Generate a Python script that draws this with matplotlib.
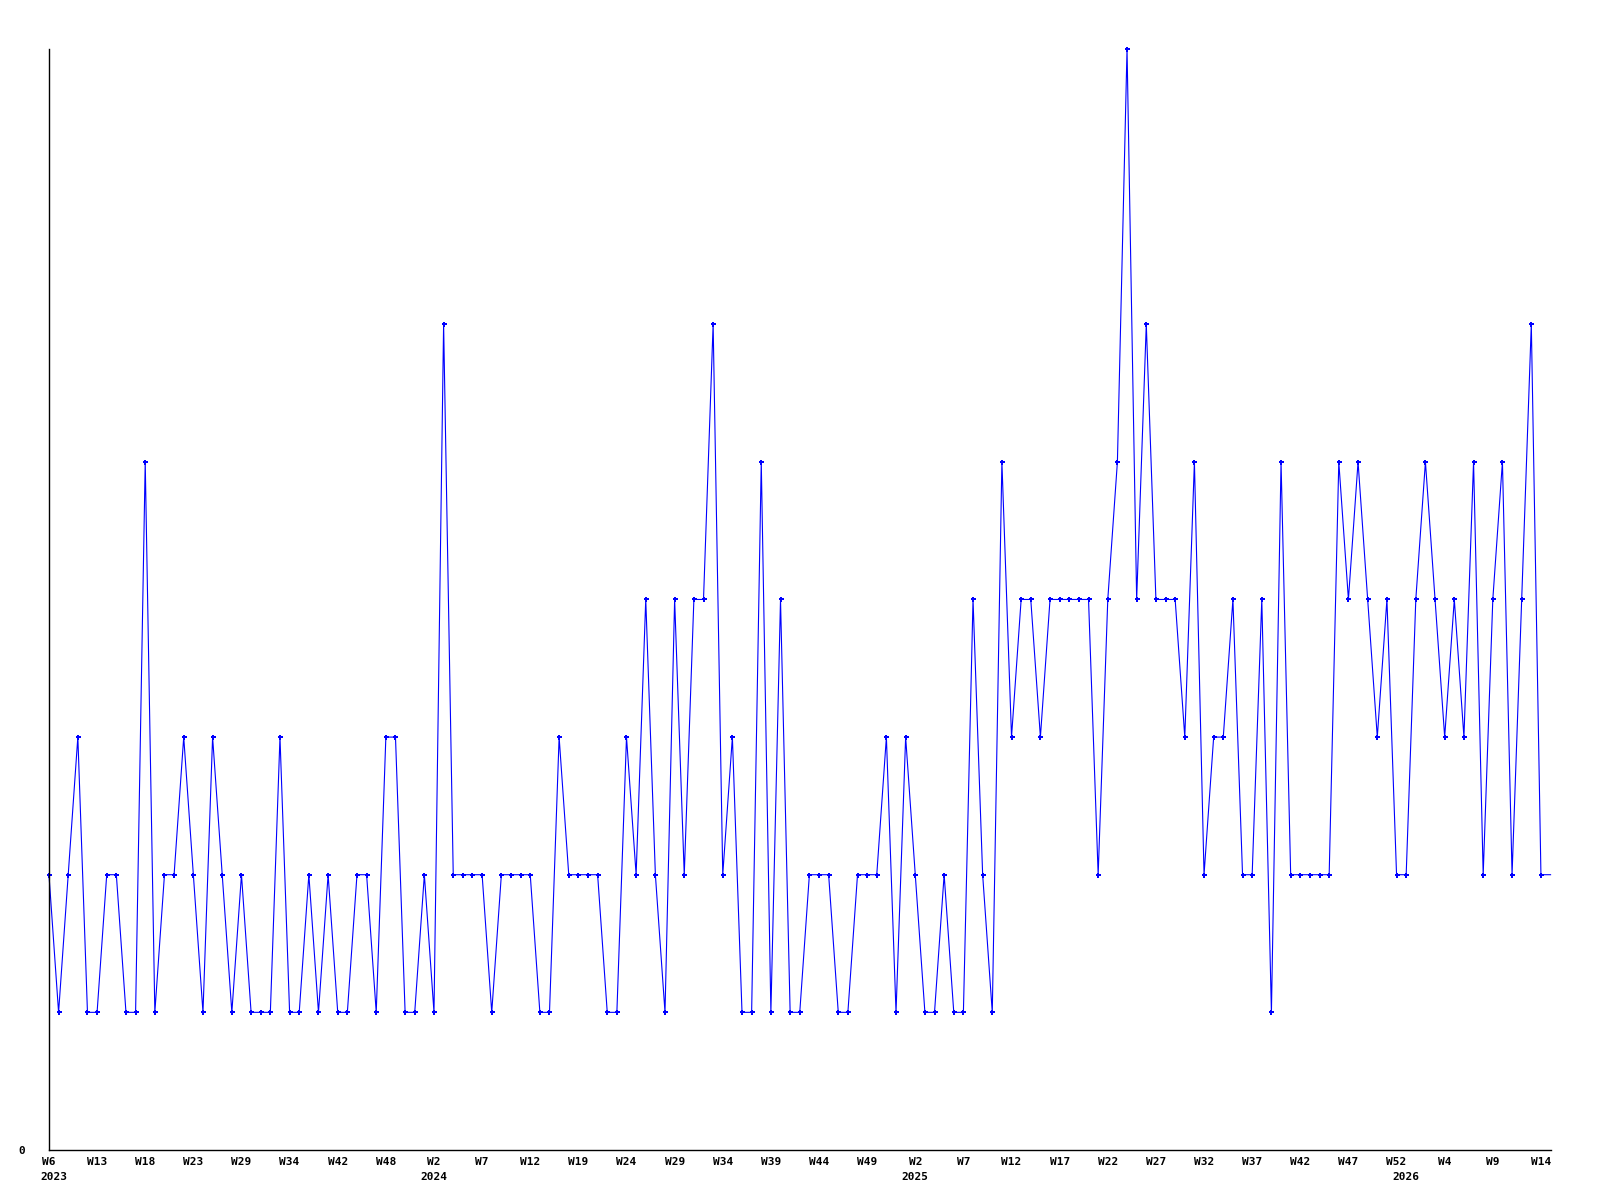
import matplotlib
matplotlib.use("Agg")
import matplotlib.pyplot as plt
import numpy as np

# weekly counts (one point per reported week)
values = [2, 1, 2, 3, 1, 1, 2, 2, 1, 1, 5, 1, 2, 2, 3, 2, 1, 3, 2, 1, 2,
          1, 1, 1, 3, 1, 1, 2, 1, 2, 1, 1, 2, 2, 1, 3, 3, 1, 1, 2, 1, 6,
          2, 2, 2, 2, 1, 2, 2, 2, 2, 1, 1, 3, 2, 2, 2, 2, 1, 1, 3, 2, 4,
          2, 1, 4, 2, 4, 4, 6, 2, 3, 1, 1, 5, 1, 4, 1, 1, 2, 2, 2, 1, 1,
          2, 2, 2, 3, 1, 3, 2, 1, 1, 2, 1, 1, 4, 2, 1, 5, 3, 4, 4, 3, 4,
          4, 4, 4, 4, 2, 4, 5, 8, 4, 6, 4, 4, 4, 3, 5, 2, 3, 3, 4, 2,
          2, 4, 1, 5, 2, 2, 2, 2, 2, 5, 4, 5, 4, 3, 4, 2, 2, 4, 5, 4, 3,
          4, 3, 5, 2, 4, 5, 2, 4, 6, 2, 2]

week_labels = ["W6", "W13", "W18", "W23", "W29", "W34", "W42", "W48",
               "W2", "W7", "W12", "W19", "W24", "W29", "W34", "W39",
               "W44", "W49", "W2", "W7", "W12", "W17", "W22", "W27",
               "W32", "W37", "W42", "W47", "W52", "W4", "W9", "W14"]
label_step = 5

years = ["2023", "2024", "2025", "2026"]
year_pos = [0, 40, 90, 141]

x = np.arange(len(values))

fig = plt.figure(figsize=(16, 12), dpi=100)
ax = fig.add_axes([0.0306, 0.0417, 0.9385, 0.9175])

ax.plot(x, values, color=(0, 0, 1), lw=0.8, marker="P", markersize=3.6,
        markeredgewidth=0, markevery=list(range(len(values) - 1)),
        clip_on=False)

ax.set_xlim(0, len(values) - 1)
ax.set_ylim(0, 8)

for s in ["top", "right"]:
    ax.spines[s].set_visible(False)
ax.spines["left"].set_linewidth(1)
ax.spines["bottom"].set_linewidth(1)

font = dict(family="DejaVu Sans Mono", weight="bold", size=8)

ax.set_xticks(np.arange(len(week_labels)) * label_step)
ax.set_xticklabels(week_labels, **font)
ax.tick_params(axis="x", length=0, pad=5)
ax.set_yticks([0])
ax.set_yticklabels(["0"], **font)
ax.tick_params(axis="y", length=0, pad=17)

for i, (yr, p) in enumerate(zip(years, year_pos)):
    # first year label starts at the left edge of its week label
    if i == 0:
        ha, dx = "left", -6
    else:
        ha, dx = "center", 0
    ax.annotate(yr, xy=(p, 0), xycoords=("data", "axes fraction"),
                xytext=(dx, -16), textcoords="offset points",
                ha=ha, va="top", **font)

fig.savefig("out.png", dpi=100)
